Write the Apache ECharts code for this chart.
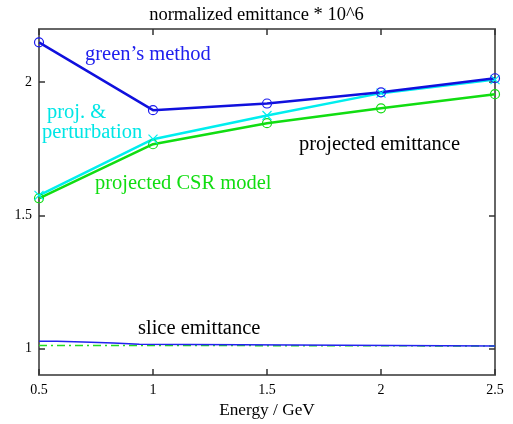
<!DOCTYPE html>
<html><head><meta charset="utf-8">
<script src="https://cdn.jsdelivr.net/npm/echarts@6/dist/echarts.min.js"></script>
<style>html,body{margin:0;padding:0;background:#fff}#c{width:513px;height:424px}</style>
</head><body><div id="c"></div>
<script>
const energy = [0.5, 1.0, 1.5, 2.0, 2.5];
const greens = [2.15, 1.895, 1.92, 1.962, 2.015];
const perturb = [1.575, 1.786, 1.875, 1.959, 2.01];
const csrModel = [1.564, 1.767, 1.846, 1.902, 1.955];
const sliceX = [0.5, 0.578, 0.694, 0.826, 0.94, 2.5];
const sliceBlue = [1.027, 1.024, 1.020, 1.016, 1.009, 1.009];
const sliceGreenX = [0.5, 0.94, 2.5];
const sliceGreen = [1.011, 1.011, 1.009];
const xTicks = [0.5, 1, 1.5, 2, 2.5];
const yTicks = [1, 1.5, 2];

const F = '"Liberation Serif", "DejaVu Serif", serif';
const pair = (xs, ys) => xs.map((x, i) => [x, ys[i]]);
const frame = {lineStyle: {color: '#666', width: 2}};
const tick = {inside: true, length: 6, lineStyle: {color: '#333', width: 1.5}};
const AF = '20.5px ' + F;

const chart = echarts.init(document.getElementById('c'));
chart.setOption({
  animation: false,
  title: {text: 'normalized emittance * 10^6', left: 'center', top: 1,
    textStyle: {fontFamily: F, fontSize: 18.5, fontWeight: 'normal', color: '#000'}},
  grid: {left: 39, right: 18, top: 29, bottom: 49},
  xAxis: [
    {type: 'value', min: 0.5, max: 2.5, interval: 0.5, position: 'bottom',
     name: 'Energy / GeV', nameLocation: 'middle', nameGap: 27,
     nameTextStyle: {fontFamily: F, fontSize: 17.3, color: '#000'},
     axisLine: frame, axisTick: tick, splitLine: {show: false},
     axisLabel: {fontFamily: F, fontSize: 14, color: '#000', margin: 8,
       customValues: xTicks, formatter: v => String(v)}},
    {type: 'value', min: 0.5, max: 2.5, interval: 0.5, position: 'top',
     axisLine: frame, axisTick: tick, axisLabel: {show: false}, splitLine: {show: false}}
  ],
  yAxis: [
    {type: 'value', min: 0.9, max: 2.2, position: 'left',
     axisLine: {show: true, ...frame}, splitLine: {show: false},
     axisTick: {show: true, ...tick, customValues: yTicks},
     axisLabel: {fontFamily: F, fontSize: 14, color: '#000', margin: 7,
       customValues: yTicks, formatter: v => String(v)}},
    {type: 'value', min: 0.9, max: 2.2, position: 'right',
     axisLine: {show: true, ...frame}, splitLine: {show: false},
     axisTick: {show: true, ...tick, customValues: yTicks},
     axisLabel: {show: false}}
  ],
  series: [
    {type: 'line', data: pair(sliceGreenX, sliceGreen), symbol: 'none',
     lineStyle: {color: '#22dd22', width: 1.5, type: [8, 4, 2, 4]}},
    {type: 'line', data: pair(sliceX, sliceBlue), symbol: 'none', step: 'end',
     lineStyle: {color: '#2222ee', width: 1.5}},
    {type: 'line', data: pair(energy, csrModel), symbol: 'circle', symbolSize: 9,
     lineStyle: {color: '#11dd11', width: 2.5},
     itemStyle: {color: 'rgba(0,0,0,0)', borderColor: '#11dd11', borderWidth: 1.2}},
    {type: 'line', data: pair(energy, perturb),
     symbol: 'path://M0,0L10,10M10,0L0,10', symbolSize: 9,
     lineStyle: {color: '#00eeee', width: 2.5},
     itemStyle: {color: 'rgba(0,0,0,0)', borderColor: '#00eeee', borderWidth: 1.2}},
    {type: 'line', data: pair(energy, greens), symbol: 'circle', symbolSize: 9,
     lineStyle: {color: '#1010dd', width: 2.5},
     itemStyle: {color: 'rgba(0,0,0,0)', borderColor: '#1a1aee', borderWidth: 1.2}}
  ],
  graphic: [
    {type: 'text', left: 85, top: 44, style: {text: "green’s method", font: AF, fill: '#2020ee'}},
    {type: 'text', left: 47, top: 102, style: {text: 'proj. &', font: AF, fill: '#00e6e6'}},
    {type: 'text', left: 42, top: 122, style: {text: 'perturbation', font: AF, fill: '#00e6e6'}},
    {type: 'text', left: 95, top: 173, style: {text: 'projected CSR model', font: AF, fill: '#11dd11'}},
    {type: 'text', left: 299, top: 134, style: {text: 'projected emittance', font: AF, fill: '#000'}},
    {type: 'text', left: 138, top: 318, style: {text: 'slice emittance', font: AF, fill: '#000'}}
  ]
});
</script></body></html>
